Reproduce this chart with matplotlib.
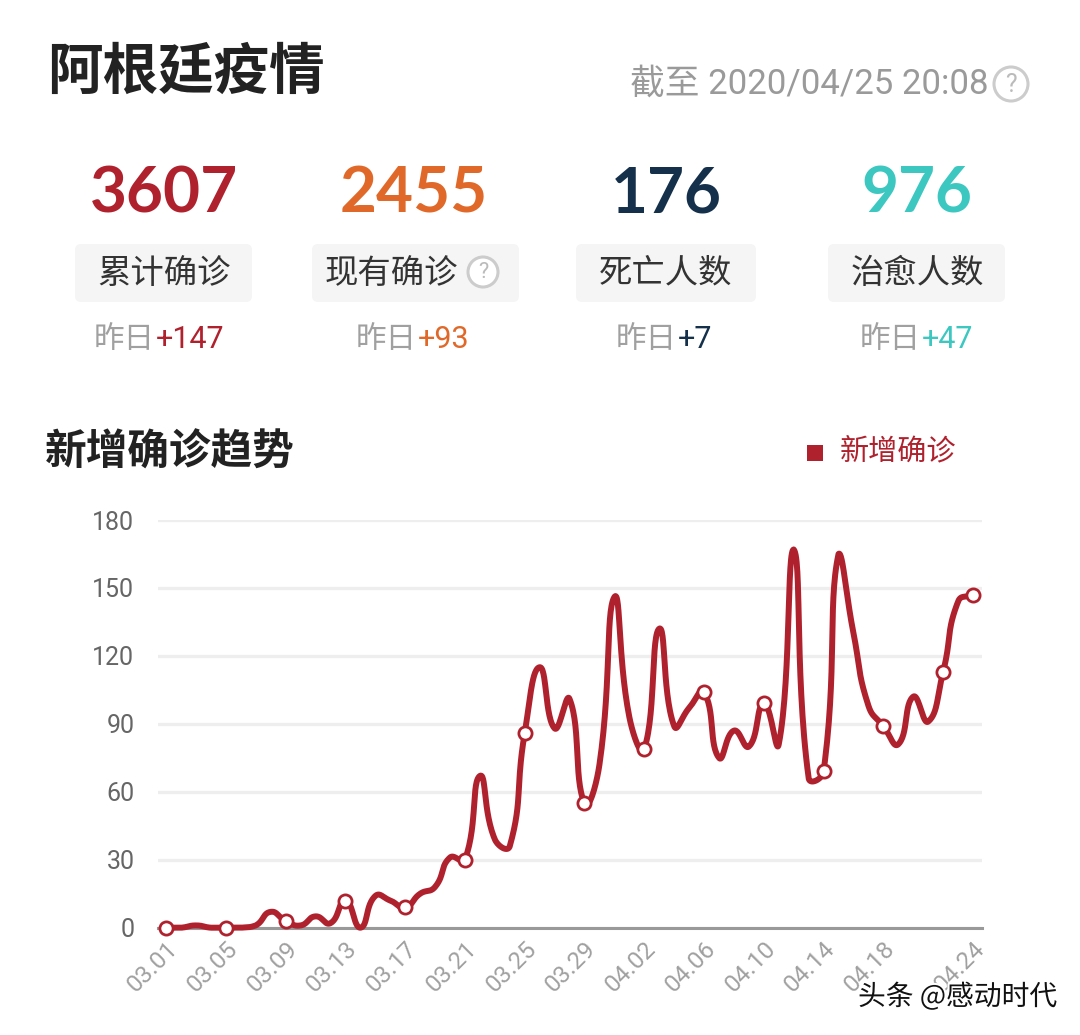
import numpy as np
import pandas as pd
import matplotlib
matplotlib.use("Agg")
import matplotlib.pyplot as plt
from matplotlib.patches import FancyBboxPatch, Circle, Rectangle
import matplotlib.patheffects as pe

# ---------------- data ----------------
dates = [d.strftime("%m.%d") for d in pd.date_range("2020-03-01", "2020-04-24")]
new_cases = [0, 0, 1, 0, 0, 0, 1, 7, 3, 1,
             5, 2, 12, 0, 14, 12, 9, 15, 18, 31,
             30, 67, 39, 36, 86, 115, 88, 101, 55, 72,
             146, 93, 79, 132, 89, 97, 104, 75, 87, 80,
             99, 81, 167, 66, 69, 165, 130, 98, 89, 81,
             102, 91, 113, 144, 147]
y_ticks = [0, 30, 60, 90, 120, 150, 180]

stat_values = ["3607", "2455", "176", "976"]
stat_labels = ["累计确诊", "现有确诊", "死亡人数", "治愈人数"]
stat_deltas = ["+147", "+93", "+7", "+47"]
stat_colors = ["#B0212E", "#E0692A", "#14304B", "#3CC7C1"]

title = "阿根廷疫情"
update_text = "截至 2020/04/25 20:08"
chart_title = "新增确诊趋势"
legend_label = "新增确诊"
watermark = "头条 @感动时代"

RED = "#B0212E"
CJK = ["Noto Sans CJK SC", "DejaVu Sans"]
NUM = ["Roboto", "Noto Sans CJK SC", "DejaVu Sans"]

W, H = 1080, 1035
fig = plt.figure(figsize=(W / 100, H / 100), dpi=100)
fig.patch.set_facecolor("white")

# overlay axes in pixel coordinates for the header widgets
ov = fig.add_axes([0, 0, 1, 1])
ov.set_xlim(0, W)
ov.set_ylim(H, 0)
ov.axis("off")

ov.text(47, 73, title, family=CJK, fontsize=40, weight="bold", color="#222222",
        ha="left", va="center")
ov.text(988, 84, update_text, family=NUM, fontsize=25, color="#9A9A9A",
        ha="right", va="center")


def help_icon(cx, cy, r):
    ov.add_patch(Circle((cx, cy), r, facecolor="white", edgecolor="#CCCCCC", lw=2.2))
    ov.text(cx, cy + 1, "?", family=NUM, fontsize=r * 1.05, color="#BBBBBB",
            ha="center", va="center")


help_icon(1011, 84, 17)

centers = [164, 414, 666, 917]
boxes = [(75, 252), (312, 519), (576, 756), (828, 1005)]
label_cx = [164, 391, 666, 917]
splits = [155, 417, 677, 921]
for i in range(4):
    ov.text(centers[i], 194, stat_values[i], family=["Lato", "DejaVu Sans"],
            fontsize=46, weight="bold", color=stat_colors[i], ha="center", va="center")
    x0, x1 = boxes[i]
    ov.add_patch(FancyBboxPatch((x0 + 5, 249), x1 - x0 - 10, 48,
                                boxstyle="round,pad=5,rounding_size=6",
                                facecolor="#F5F5F5", edgecolor="none"))
    ov.text(label_cx[i], 273, stat_labels[i], family=CJK, fontsize=24,
            color="#333333", ha="center", va="center")
    ov.text(splits[i], 339, "昨日", family=CJK, fontsize=22, color="#A0A0A0",
            ha="right", va="center")
    ov.text(splits[i] + 1, 339, stat_deltas[i], family=NUM, fontsize=22,
            color=stat_colors[i], ha="left", va="center")

help_icon(483, 272, 15)

ov.text(45, 453, chart_title, family=CJK, fontsize=30, weight="bold",
        color="#222222", ha="left", va="center")
ov.add_patch(Rectangle((807, 445), 16, 16, facecolor=RED, edgecolor="none"))
ov.text(840, 451, legend_label, family=CJK, fontsize=21, color=RED,
        ha="left", va="center")

# ---------------- chart ----------------
ax_left, ax_right, ax_top, ax_bot = 158, 982, 520, 927.7
ax = fig.add_axes([ax_left / W, 1 - ax_bot / H, (ax_right - ax_left) / W, (ax_bot - ax_top) / H])
ax.set_facecolor("none")
XLIM = (-0.54, 54.6)
YLIM = (0, 180)
x = np.arange(len(new_cases), dtype=float)
yv = np.array(new_cases, dtype=float)

# pixel scale factors (for smoothing the way the source chart does)
sxp = (ax_right - ax_left) / (XLIM[1] - XLIM[0])
syp = (ax_bot - ax_top) / (YLIM[1] - YLIM[0])


def echarts_smooth(xs, ys, smooth=0.5, n=30):
    P = np.column_stack([xs * sxp, ys * syp])
    mn, mx = P.min(axis=0), P.max(axis=0)
    N = len(P)
    cps_in, cps_out = [], []
    for i in range(N):
        p = P[i]
        prev = P[i - 1] if i > 0 else p
        nxt = P[i + 1] if i < N - 1 else p
        v = (nxt - prev) * smooth
        d0 = np.hypot(*(p - prev))
        d1 = np.hypot(*(p - nxt))
        s = d0 + d1
        if s > 0:
            d0, d1 = d0 / s, d1 / s
        c0 = np.clip(p - v * d0, mn, mx)
        c1 = np.clip(p + v * d1, mn, mx)
        cps_in.append(c0)
        cps_out.append(c1)
    t = np.linspace(0, 1, n, endpoint=False)[:, None]
    pts = []
    for i in range(N - 1):
        p1, c1, c2, p2 = P[i], cps_out[i], cps_in[i + 1], P[i + 1]
        pts.append(((1 - t) ** 3) * p1 + 3 * ((1 - t) ** 2) * t * c1
                   + 3 * (1 - t) * t ** 2 * c2 + t ** 3 * p2)
    pts.append(P[-1][None, :])
    pts = np.vstack(pts)
    return pts[:, 0] / sxp, pts[:, 1] / syp


lx, ly = echarts_smooth(x, yv)
ax.plot(lx, ly, color=RED, lw=4.3, solid_capstyle="round", zorder=3, clip_on=False)

mark_idx = list(range(0, len(new_cases), 4))
if mark_idx[-1] != len(new_cases) - 1:
    mark_idx.append(len(new_cases) - 1)
ax.plot(x[mark_idx], yv[mark_idx], ls="none", marker="o",
        ms=9.5, mfc="white", mec=RED, mew=2.0, zorder=4, clip_on=False)

ax.set_xlim(*XLIM)
ax.set_ylim(*YLIM)
ax.set_yticks(y_ticks)
ax.set_yticklabels([str(v) for v in y_ticks], family=NUM, fontsize=18, color="#666666")
ax.yaxis.grid(True, color="#EEEEEE", lw=2.4)
ax.set_axisbelow(True)
for s in ["top", "right", "left"]:
    ax.spines[s].set_visible(False)
ax.spines["bottom"].set_color("#999999")
ax.spines["bottom"].set_linewidth(2.2)
ax.tick_params(axis="y", length=0, pad=17)
ax.tick_params(axis="x", length=0, pad=7)

label_idx = list(range(0, 49, 4)) + [len(dates) - 1]
ax.set_xticks(label_idx)
ax.set_xticklabels([dates[i] for i in label_idx], rotation=45, ha="right",
                   rotation_mode="anchor", family=NUM, fontsize=17.5, color="#A0A0A0")

# watermark on top of everything
wm = fig.add_axes([0, 0, 1, 1])
wm.set_xlim(0, W)
wm.set_ylim(H, 0)
wm.axis("off")
wm.set_zorder(5)
wm.text(858, 997, watermark, family=CJK, fontsize=20, color="#111111",
        ha="left", va="center",
        path_effects=[pe.withStroke(linewidth=3, foreground="white")])

fig.savefig("out.png", dpi=100, facecolor="white")
